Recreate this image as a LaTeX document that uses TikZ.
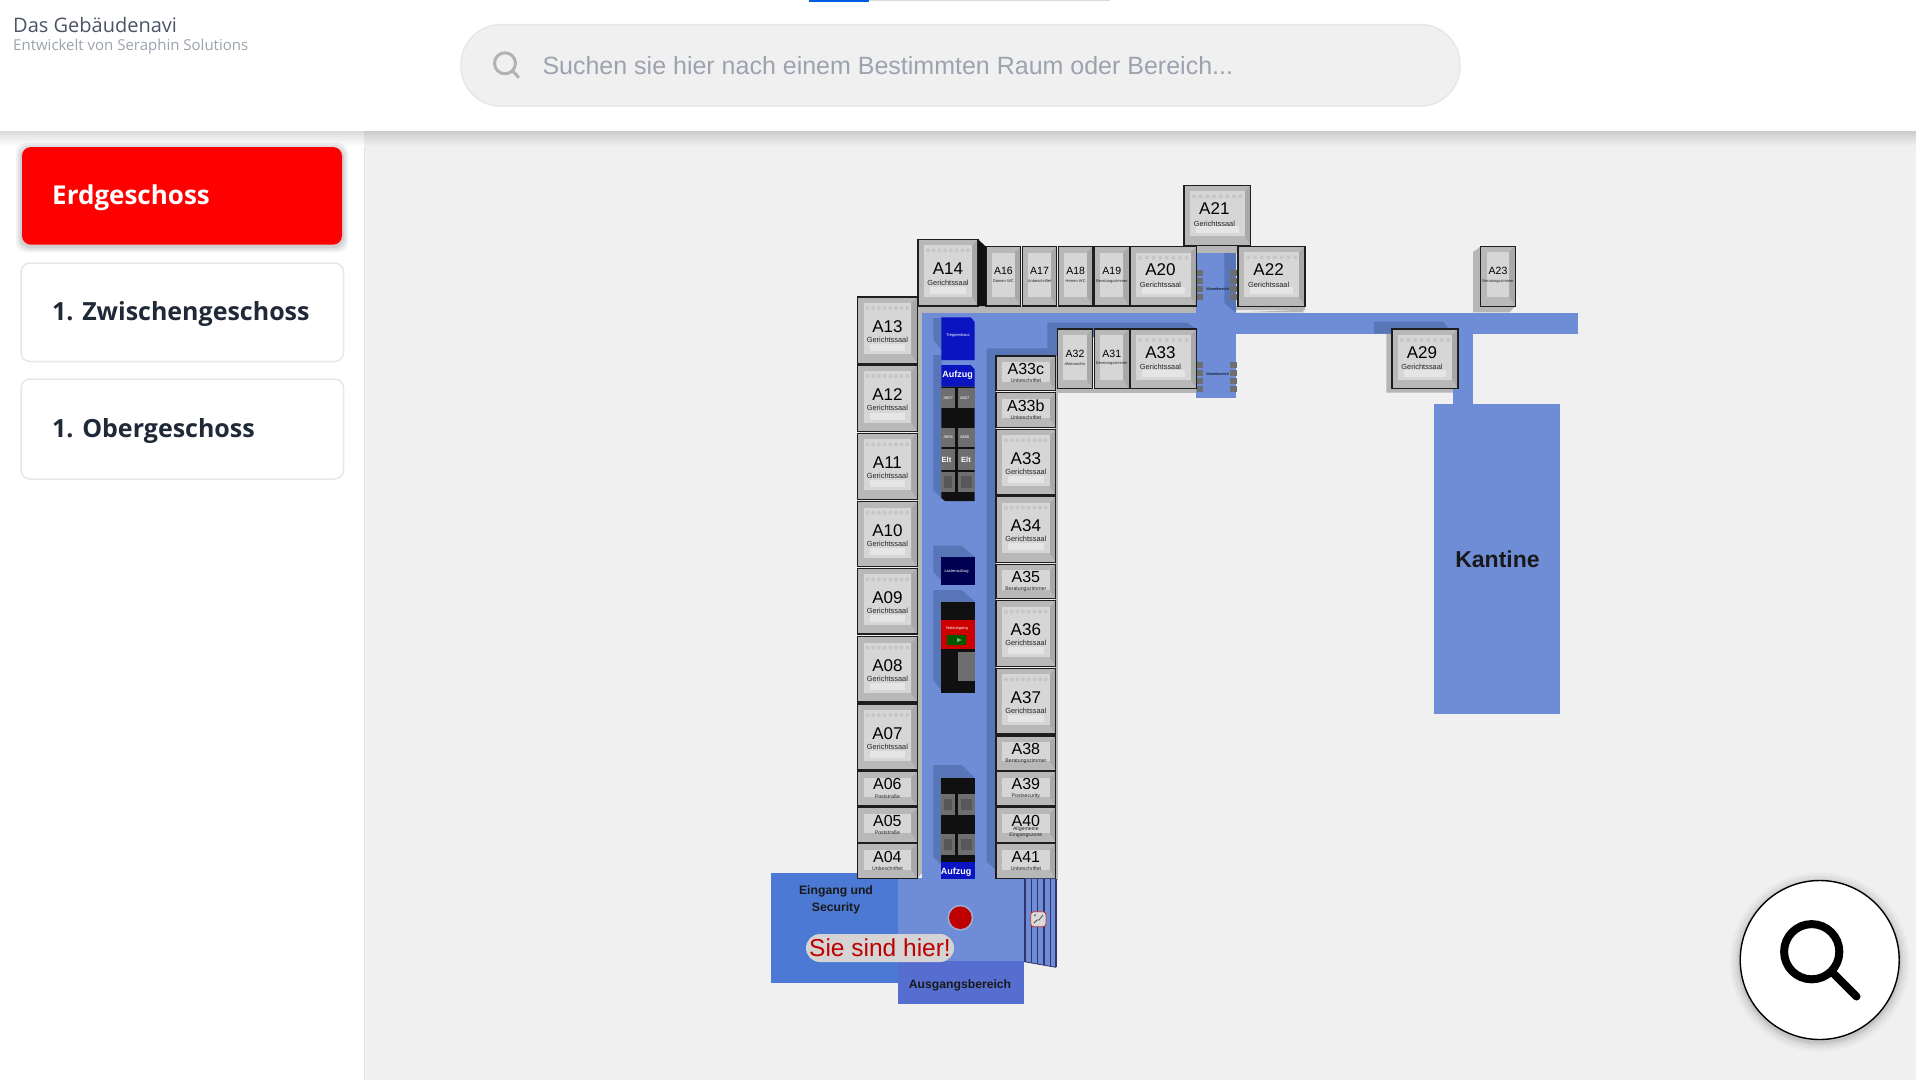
\documentclass[tikz,border=0pt]{standalone}
\usepackage{fontspec}
\setmainfont{Liberation Sans}
\newfontfamily\uifont{Open Sans}
\definecolor{pagebg}{HTML}{F0F0F0}
\definecolor{hall}{HTML}{6E8DD6}
\definecolor{hallshade}{HTML}{5875B8}
\definecolor{entry}{HTML}{4B79D3}
\definecolor{exitarea}{HTML}{566ED0}
\definecolor{strip}{HTML}{B6B6B6}
\definecolor{roomgrey}{HTML}{B8B8B8}
\definecolor{roomlight}{HTML}{D6D6D6}
\definecolor{roomdark}{HTML}{A8A8A8}
\definecolor{roomedge}{HTML}{1E1E1E}
\definecolor{liftblue}{HTML}{0A14C0}
\definecolor{core}{HTML}{101010}
\definecolor{patch}{HTML}{6E6E6E}
\definecolor{patchin}{HTML}{585858}
\definecolor{navtext}{HTML}{1F2937}
\definecolor{titletext}{HTML}{4B5563}
\definecolor{graytext}{HTML}{9CA3AF}
\definecolor{btnedge}{HTML}{E5E7EB}
\newcommand\sz[1]{\fontsize{#1}{#1}\selectfont}
\newcommand\roomshape[4]{
\fill[roomgrey] (#1,#2) rectangle (#3,#4);
\fill[roomdark] (#3,#2) -- (#3,#4) -- (#3-6,#4-9) -- (#3-6,#2+6) -- cycle;
\fill[roomlight] (#1+6,#2+6) rectangle (#3-6,#4-9);
\draw[roomedge,line width=1.5pt] (#1,#2) rectangle (#3,#4);
}
\newcommand\saalfurn[4]{
\foreach \t in {0,...,7} \fill[roomgrey!80!white] ({#1+10+(#3-#1-20)*\t/7},#2+11) circle (2);
\fill[white!90!black] (#1+12,#4-19) rectangle (#3-12,#4-12);
}
\tikzset{
  bigname/.style={inner sep=0pt,text=black,font=\sz{17}},
  midname/.style={inner sep=0pt,text=black,font=\sz{16}},
  smallname/.style={inner sep=0pt,text=black,font=\sz{10.5}},
  saalsub/.style={inner sep=0pt,text=black!85,font=\sz{7.4}},
  midsub/.style={inner sep=0pt,text=black!85,font=\fontsize{5.2}{6}\selectfont,align=center},
  smallsub/.style={inner sep=0pt,text=black!85,font=\sz{4}},
  tinywhite/.style={inner sep=0pt,text=white,font=\sz{4}},
  areatext/.style={inner sep=0pt,text=black!90,font=\bfseries\sz{12.2},align=center},
  navbtn/.style={draw=btnedge,line width=1.5pt,fill=white,rounded corners=9},
  navtitle/.style={inner sep=0pt,anchor=west,text=navtext,font=\uifont\bfseries\sz{25}},
}
\begin{document}
\begin{tikzpicture}[x=1pt,y=-1pt]
\useasboundingbox (0,0) rectangle (1916,1080);
\fill[pagebg] (0,0) rectangle (1916,1080);
\fill[white] (0,131) rectangle (364,1080);
\draw[black!10] (364.5,131) -- (364.5,1080);
\shade[top color=black!14,bottom color=white] (0,131) rectangle (364,146);
\shade[top color=black!20,bottom color=pagebg] (364,131) rectangle (1916,146);
\fill[white] (0,0) rectangle (1916,131);
\fill[black!14] (809,0) rectangle (1110,1.3);
\fill[blue!60!cyan!90!black] (809,0) rectangle (869,1.6);

\node[inner sep=0pt,anchor=west,text=titletext,font=\uifont\sz{20}] (apptitle) at (13,24.5) {Das Gebäudenavi};
\node[inner sep=0pt,anchor=west,text=graytext,font=\uifont\sz{15}] (appsub) at (13,47) {Entwickelt von Seraphin Solutions};

\draw[btnedge,line width=1.5pt,fill=pagebg,rounded corners=40] (461,24.5) rectangle (1460,106.2);
\draw[black!30,line width=3pt] (505,63.3) circle (10.5);
\draw[black!30,line width=3pt] (512.5,71) -- (519,77.7);
\node[inner sep=0pt,anchor=west,text=graytext,font=\sz{25}] (searchtext) at (542.3,65.5) {Suchen sie hier nach einem Bestimmten Raum oder Bereich...};

\foreach \g/\o in {6/.12,4/.14,2/.16} {
\fill[black,opacity=\o*.45,rounded corners=10] (22-\g,149-\g) rectangle (342+\g,246+\g);
}
\fill[red,rounded corners=9] (22,147) rectangle (342,244.7);
\node[navtitle,text=white,font=\uifont\bfseries\sz{26}] (erdgeschoss) at (52,197.5) {Erdgeschoss};
\draw[navbtn] (21,263) rectangle (343.5,361.5);
\node[navtitle] (zwischen) at (52,314) {1. Zwischengeschoss};
\draw[navbtn] (21,379) rectangle (343.5,479);
\node[navtitle] (oberg) at (52,431) {1. Obergeschoss};

\fill[strip] (917,297) rectangle (922,873) -- (922,873) -- (917,878.7) -- (917,873) -- cycle;
\fill[strip] (917,306) rectangle (1196.4,312.7);
\fill[strip] (1196.4,245) rectangle (1238,253);
\fill[strip] (1236,306) rectangle (1305,310) -- (1305,306) -- (1303,312.3) -- (1236,312.3) -- cycle;
\fill[strip] (1057,388.7) rectangle (1196.4,392.7);
\fill[strip] (1055,356) rectangle (1057.5,880);
\fill[strip] (1473.2,252) -- (1480.7,246.3) -- (1480.7,306) -- (1515.4,306) -- (1509.6,312.3) -- (1473.2,312.3) -- cycle;
\fill[strip] (1386.4,334) -- (1391.8,329) -- (1458.2,388) -- (1453,392.7) -- (1386.4,392.7) -- cycle;

\fill[hall] (922,312.7) rectangle (1577.5,333.5);
\fill[hall] (922,312.7) rectangle (996,880);
\fill[hall] (996,312.7) rectangle (1057,356);
\fill[hall] (1196.4,253) rectangle (1236,397.7);
\fill[hall] (1452.5,333) rectangle (1473.2,404);
\fill[entry] (771.3,873.3) rectangle (897.7,982.7);
\fill[hall] (897.7,878) rectangle (1024.3,961);
\fill[exitarea] (897.7,961) rectangle (1024.3,1004.3);
\fill[hall] (1434,404) rectangle (1560.3,713.7);

\fill[hallshade] (986.7,348.3) -- (1047.3,348.3) -- (1047.3,322.7) -- (1186.7,322.7) -- (1196.7,329) -- (1057,340) -- (1057,356) -- (996,356) -- (996,870) -- (986.7,861.7) -- cycle;
\fill[hallshade] (1224.3,253) -- (1236,253) -- (1236,313) -- (1224.3,303) -- cycle;
\fill[hallshade] (1374,321.7) -- (1443.6,321.7) -- (1449,329) -- (1391.8,329) -- (1391.8,333.5) -- (1374,333.5) -- cycle;
\fill[hallshade] (933.3,318) -- (941.5,318) -- (941.5,350) -- (933.3,340) -- cycle;
\fill[hallshade] (933.3,355) -- (941.5,355) -- (941.5,498) -- (933.3,490) -- cycle;
\fill[hallshade] (933.3,545.7) -- (961.7,545.7) -- (975,557) -- (941,580) -- (933.3,571.7) -- cycle;
\fill[hallshade] (933.3,590) -- (961.7,590) -- (975,601.7) -- (941,690) -- (933.3,680) -- cycle;
\fill[hallshade] (933.3,765) -- (961.7,765) -- (975,778) -- (941,865) -- (933.3,856.7) -- cycle;

\fill[liftblue] (941.3,317.3) -- (970.7,317.3) -- (974.7,322) -- (974.7,360) -- (941.3,360) -- cycle;
\node[tinywhite] (treppe) at (958,335) {Treppenhaus};
\fill[liftblue] (941.3,365) -- (970.7,365) -- (974.7,369) -- (974.7,386.7) -- (941.3,386.7) -- cycle;
\node[inner sep=0pt,text=white,font=\bfseries\sz{9}] (lifttop) at (957.5,375) {Aufzug};
\fill[core] (941.3,386.7) -- (974.7,386.7) -- (974.7,501) -- (945,501) -- (941.3,498) -- cycle;
\foreach \xa/\xb in {941.3/955,958/974.7} {
\fill[patch] (\xa,388.3) rectangle (\xb,408.3);
\fill[patch] (\xa,428.3) rectangle (\xb,446.7);
\fill[patch] (\xa,449.3) rectangle (\xb,470);
\fill[patch] (\xa,471.7) rectangle (\xb,491.7);
\fill[patchin] (\xa+3,476) rectangle (\xb-3,488);
}
\node[tinywhite] (wca) at (948.2,398) {A607};
\node[tinywhite] (wcb) at (964.7,398) {A607};
\node[tinywhite] (wcc) at (948.2,437.5) {A606};
\node[tinywhite] (wcd) at (964.7,437.5) {A606};
\node[inner sep=0pt,text=white,font=\bfseries\sz{7.5}] (elta) at (946.5,460) {Elt};
\node[inner sep=0pt,text=white,font=\bfseries\sz{7.5}] (eltb) at (966,460) {Elt};

\fill[black!20!blue!40!black] (941,557) rectangle (975,584.7);
\node[tinywhite] (lasten) at (956.5,571) {Lastenaufzug};
\fill[core] (941,601.7) rectangle (975,693.3);
\fill[red!80!black] (941,620) rectangle (975,649);
\node[tinywhite] (notaus) at (957,628.5) {Notausgang};
\fill[green!35!black] (946.7,635) rectangle (966,645);
\fill[white!70!green!70!black] (957,638) -- (962,640) -- (957,642) -- cycle;
\fill[patch] (958.3,652.3) rectangle (975,681);

\fill[core] (941,778.3) rectangle (975,861.7);
\foreach \xa/\xb in {941/955,958.3/975} {
\foreach \ya/\yb in {794.3/815,834/855} {
\fill[patch] (\xa,\ya) rectangle (\xb,\yb);
\fill[patchin] (\xa+3,\ya+5) rectangle (\xb-3,\yb-5);
}
}
\fill[liftblue] (941,861.7) rectangle (975,878.7);
\node[inner sep=0pt,text=white,font=\bfseries\sz{9}] (liftlow) at (956,872) {Aufzug};

\foreach \y in {273,281,289,297,365,373,381,389} {
\fill[patch] (1197,\y-3) rectangle (1203,\y+3);
\fill[patch] (1230,\y-3) rectangle (1236.5,\y+3);
}
\node[inner sep=0pt,font=\sz{3.8}] (waitup) at (1217.7,289) {Wartebereich};
\node[inner sep=0pt,font=\sz{3.8}] (waitdown) at (1217.7,374) {Wartebereich};

\foreach \id/\txt/\xa/\ya/\xb/\yb/\dx/\dy in {
a13/A13/857.5/297/917.3/363.3/0/0,a12/A12/857.5/365/917.3/431.7/0/0,a11/A11/857.5/433.3/917.3/499.3/0/0,
a10/A10/857.5/501.7/917.3/566.7/0/0,a09/A09/857.5/568.3/917.3/634/0/0,a08/A08/857.5/636.7/917.3/702/0/0,
a07/A07/857.5/704/917.3/770/0/0,a14/A14/918/239.3/978/306/0/0,a21/A21/1184/185.3/1250.7/245.3/-3/-3,
a20/A20/1130.3/246.7/1196.7/306/-3/-3,a22/A22/1238.2/246.3/1305/306.3/-3/-3,a33t/A33/1130.3/329/1196.7/388.7/-3/-3,
a29/A29/1391.8/329/1458.2/388.7/-3/-3,a33/A33/996/429.3/1055.7/495/0/0,a34/A34/996/496.7/1055.7/562.3/0/0,
a36/A36/996/600.7/1055.7/666.3/0/0,a37/A37/996/668.3/1055.7/734/0/0} {
\roomshape{\xa}{\ya}{\xb}{\yb}
\saalfurn{\xa}{\ya}{\xb}{\yb}
\node[bigname] (\id) at ({(\xa+\xb)/2+\dx},{(\ya+\yb)/2-3.7+\dy}) {\txt};
\node[saalsub] (\id sub) at ({(\xa+\xb)/2+\dx},{(\ya+\yb)/2+9.8+\dy/2}) {Gerichtssaal};
}

\foreach \id/\txt/\xa/\ya/\xb/\yb/\sub in {
a33c/A33c/996/356/1055.7/390.7/Unbeschriftet,a33b/A33b/996/392.7/1055.7/427.3/Unbeschriftet,
a35/A35/996/564.3/1055.7/598.7/Beratungszimmer,a38/A38/996/736/1055.7/770.3/Beratungszimmer,
a39/A39/996/771.7/1055.7/806/Postsecurity,a40/A40/996/807.7/1055.7/842.3/{Allgemeine\\Eingangszone},
a41/A41/996/843.7/1055.7/878.7/Unbeschriftet,a06/A06/857.5/771.7/917.3/806/Poststraße,
a05/A05/857.5/807.7/917.3/842.3/Poststraße,a04/A04/857.5/843.7/917.3/878.7/Unbeschriftet} {
\roomshape{\xa}{\ya}{\xb}{\yb}
\node[midname] (\id) at ({(\xa+\xb)/2},{(\ya+\yb)/2-4.5}) {\txt};
\node[midsub] (\id sub) at ({(\xa+\xb)/2},{(\ya+\yb)/2+7.5}) {\sub};
}

\foreach \id/\txt/\xa/\ya/\xb/\yb/\sub in {
a16/A16/986/246.7/1020.7/306/Damen WC,a17/A17/1022.3/246.7/1056.7/306/Unbeschriftet,
a18/A18/1058.3/246.7/1093/306/Herren WC,a19/A19/1094.3/246.7/1129.3/306/Beratungszimmer,
a32/A32/1057.3/329/1092.7/388.7/Aktenarchiv,a31/A31/1094.3/329/1129.3/388.7/Beratungszimmer,
a23/A23/1480.7/246.3/1515.4/306.3/Beratungszimmer} {
\roomshape{\xa}{\ya}{\xb}{\yb}
\node[smallname] (\id) at ({(\xa+\xb)/2},{(\ya+\yb)/2-5}) {\txt};
\node[smallsub] (\id sub) at ({(\xa+\xb)/2},{(\ya+\yb)/2+5}) {\sub};
}
\fill[core] (978,239.3) -- (986,246.7) -- (986,306) -- (978,306) -- cycle;

\fill[hall] (1024.3,878.7) -- (1056,878.7) -- (1056,967.3) -- (1024.3,961.7) -- cycle;
\foreach \x in {1025,1031.3,1037.6,1043.9,1050.2,1056} {
\draw[blue!30!black!80,line width=1.4pt] (\x,878.7) -- (\x,{961.7+(\x-1024.3)*.175});
}
\draw[blue!30!black!80,line width=.8pt] (1024.3,961.7) -- (1056,967.3);
\draw[red!70!black!80,line width=.9pt,fill=black!14,rounded corners=3] (1030.7,911.7) rectangle (1046,926.7);
\draw[black!70,line width=.8pt] (1034,923) -- (1037,920) -- (1039,920) -- (1043,915);
\draw[black!70,line width=.8pt] (1034,916) -- (1036,914.5);

\fill[black!20,opacity=.5] (960.3,917.7) circle (13);
\fill[red!75!black] (960.3,917.7) circle (11.3);
\node[areatext] (eingang) at (836,899.5) {Eingang und\\[4.5pt]Security};
\node[areatext] (ausgang) at (960,985) {Ausgangsbereich};
\node[fill=black!17,rounded corners=14,minimum width=148,minimum height=28,inner sep=0pt,text=red!75!black,font=\sz{24.5}] (hier) at (880,948) {Sie sind hier!};
\node[inner sep=0pt,font=\bfseries\sz{23},text=black!90] (kantine) at (1497.5,559.5) {Kantine};

\foreach \g/\o in {10/.03,7/.04,4/.05,2/.06} {
\fill[black,opacity=\o] (1819.7,962) circle (79.5+\g);
}
\draw[black,line width=1.4pt,fill=white] (1819.7,960) circle (79.5);
\draw[black,line width=8pt] (1811.7,951.7) circle (27.6);
\draw[black,line width=8pt,line cap=round] (1833,973) -- (1856.5,996.5);
\end{tikzpicture}
\end{document}
